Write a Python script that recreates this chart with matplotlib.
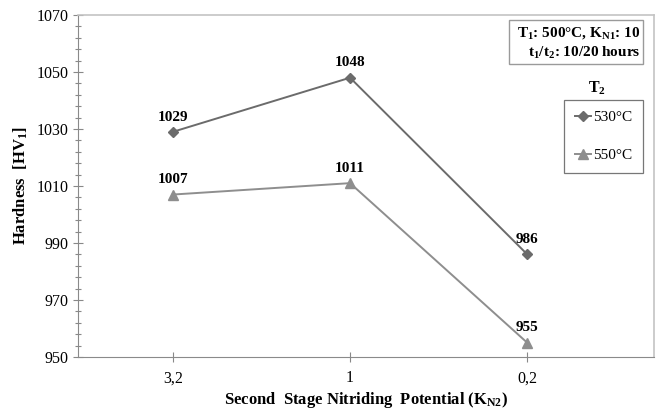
import matplotlib
matplotlib.use("Agg")
import matplotlib.pyplot as plt
from matplotlib.patches import Rectangle
from matplotlib.ticker import FixedLocator

plt.rcParams['font.family'] = ['Liberation Serif', 'DejaVu Serif']
plt.rcParams['mathtext.fontset'] = 'custom'
plt.rcParams['mathtext.rm'] = 'Liberation Serif'
plt.rcParams['mathtext.bf'] = 'Liberation Serif:bold'
plt.rcParams['mathtext.default'] = 'bf'

categories = ["3,2", "1", "0,2"]
hard_530 = [1029, 1048, 986]
hard_550 = [1007, 1011, 955]
series_labels = ["530°C", "550°C"]
y_major = [950, 970, 990, 1010, 1030, 1050, 1070]

W, H = 660, 409


def fx(px):
    return px / W


def fy(py):
    return 1 - py / H


fig = plt.figure(figsize=(6.6, 4.09), dpi=100)
ax = fig.add_axes([fx(78), fy(357), (654 - 78) / W, (357 - 15) / H])

x = list(range(len(categories)))
c530 = "#6b6b6b"
c550 = "#8e8e8e"
l1, = ax.plot(x, hard_530, color=c530, lw=1.4, marker='D', ms=5, label=series_labels[0])
l2, = ax.plot(x, hard_550, color=c550, lw=1.4, marker='^', ms=7, label=series_labels[1])

for xi, v in zip(x, hard_530):
    ax.annotate(f"{v}", (xi, v), xytext=(0, 6), textcoords='offset points',
                ha='center', va='bottom', fontsize=11, fontweight='bold')
for xi, v in zip(x, hard_550):
    ax.annotate(f"{v}", (xi, v), xytext=(0, 6), textcoords='offset points',
                ha='center', va='bottom', fontsize=11, fontweight='bold')

ax.set_xlim(-0.535, 2.715)
ax.set_ylim(y_major[0], y_major[-1])
ax.set_xticks(x)
ax.set_xticklabels(categories)
ax.set_yticks(y_major)
ax.yaxis.set_minor_locator(FixedLocator(list(range(y_major[0], y_major[-1] + 1, 4))))
ax.tick_params(axis='both', which='major', direction='inout', length=7, width=0.8,
               color='#888888', labelsize=11.5)
ax.tick_params(axis='y', which='minor', direction='inout', length=5, width=0.8, color='#888888')
ax.tick_params(axis='x', pad=6)
ax.tick_params(axis='y', pad=3)

for side in ['left', 'bottom']:
    ax.spines[side].set_color('#8a8a8a')
for side in ['top', 'right']:
    ax.spines[side].set_color('#c4c4c4')
    ax.spines[side].set_linewidth(1.2)

ax.set_ylabel(r"Hardness  [HV$_1$]", fontsize=12, fontweight='bold', labelpad=5)
ax.set_xlabel(r"Second  Stage Nitriding  Potential (K$_{N2}$)", fontsize=12,
              fontweight='bold', labelpad=3)

# process conditions box
fig.patches.append(Rectangle((fx(509), fy(64)), (643 - 509) / W, (64 - 20) / H,
                             transform=fig.transFigure, fill=False,
                             edgecolor='#9a9a9a', lw=1.0))
fig.text(fx(640), fy(33), r"T$_1$: 500°C, K$_{N1}$: 10", ha='right', va='center',
         fontsize=11, fontweight='bold')
fig.text(fx(640), fy(53), r"t$_1$/t$_2$: 10/20 hours", ha='right', va='center',
         fontsize=11, fontweight='bold')

# legend
fig.text(fx(597), fy(88), r"T$_2$", ha='center', va='center', fontsize=11.5, fontweight='bold')
leg = fig.legend(handles=[l1, l2], loc='center', bbox_to_anchor=(fx(603.5), fy(136.5)),
                 frameon=True, fancybox=False, edgecolor='#555555', fontsize=11,
                 handlelength=1.05, handletextpad=0.1, labelspacing=1.6,
                 borderpad=0.72, borderaxespad=0)
leg.get_frame().set_linewidth(0.9)

fig.savefig("out.png", dpi=100)
